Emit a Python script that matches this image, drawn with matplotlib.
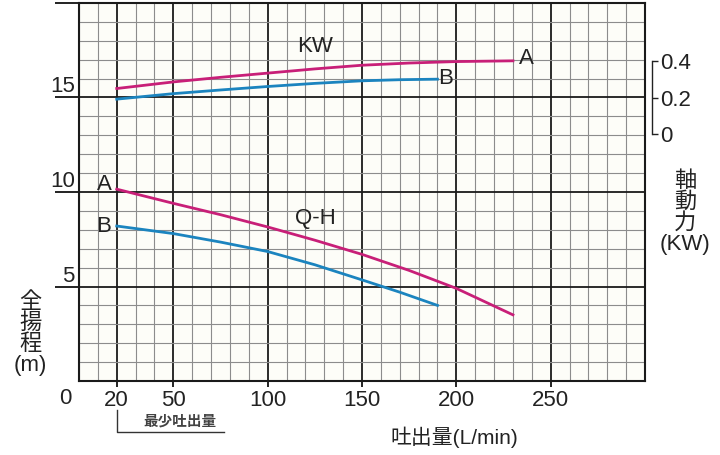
import matplotlib
matplotlib.use("Agg")
import matplotlib.pyplot as plt
import numpy as np

plt.rcParams['font.family'] = ['Liberation Sans', 'Noto Sans CJK JP', 'DejaVu Sans']

# Q-H curves (flow L/min, head m)
qh_a_q = [20, 50, 75, 100, 125, 150, 175, 200, 230]
qh_a_h = [10.15, 9.4, 8.8, 8.15, 7.45, 6.7, 5.85, 4.9, 3.5]
qh_b_q = [20, 50, 75, 100, 125, 150, 170, 190]
qh_b_h = [8.2, 7.8, 7.35, 6.85, 6.15, 5.35, 4.7, 4.0]

# shaft power curves (flow L/min, KW)
kw_a_q = [20, 50, 75, 100, 125, 150, 175, 200, 230]
kw_a_p = [0.249, 0.285, 0.31, 0.333, 0.356, 0.376, 0.388, 0.396, 0.40]
kw_b_q = [20, 50, 75, 100, 125, 150, 170, 190]
kw_b_p = [0.191, 0.221, 0.241, 0.26, 0.277, 0.291, 0.297, 0.30]

x_ticks = [20, 50, 100, 150, 200, 250]
h_ticks = [5, 10, 15, 20]
kw_ticks = [0, 0.2, 0.4]

magenta = '#c81f78'
blue = '#1b84bf'

W, H = 720, 455
fig = plt.figure(figsize=(7.2, 4.55), dpi=100)
ax = fig.add_axes([79 / W, 1 - 381 / H, (645 - 79) / W, (381 - 3) / H])
ax.set_facecolor('#fdfdf8')

ax.set_xlim(0, 300)
ax.set_ylim(0, 20)
ax.set_xticks(x_ticks)
ax.set_xticklabels([str(v) for v in x_ticks])
ax.set_xticks(np.arange(0, 301, 10), minor=True)
ax.set_yticks(h_ticks)
ax.set_yticklabels([])
ax.set_yticks(np.arange(0, 21, 1), minor=True)
ax.tick_params(axis='x', which='major', direction='out', length=4.5, width=1.4, pad=2,
               color='#222222', labelsize=16, labelcolor='#222222')
ax.tick_params(axis='y', which='major', direction='out', length=17.5, width=1.4, color='#222222')
ax.tick_params(which='minor', length=0)
ax.grid(which='minor', color='#8c8c8c', linewidth=0.8)
ax.grid(which='major', color='#1a1a1a', linewidth=1.3)
ax.set_axisbelow(True)
for s in ax.spines.values():
    s.set_color('#1a1a1a')
    s.set_linewidth(1.5)

ax.plot(qh_a_q, qh_a_h, color=magenta, lw=2)
ax.plot(qh_b_q, qh_b_h, color=blue, lw=2)

# right axis for shaft power, 0.2 KW sits on the 15 m line
ax2 = ax.twinx()
ax2.set_ylim((0 - 13.06) / 9.7, (20 - 13.06) / 9.7)
ax2.plot(kw_a_q, kw_a_p, color=magenta, lw=2)
ax2.plot(kw_b_q, kw_b_p, color=blue, lw=2)
ax2.set_yticks(kw_ticks)
ax2.set_yticklabels(['0', '0.2', '0.4'])
ax2.spines['right'].set_position(('outward', 5))
ax2.spines['right'].set_bounds(0, 0.4)
ax2.spines['right'].set_color('#222222')
ax2.spines['right'].set_linewidth(1.0)
for s in ['left', 'top', 'bottom']:
    ax2.spines[s].set_visible(False)
ax2.tick_params(axis='y', direction='out', length=4, width=1.0, pad=2, color='#222222',
                labelsize=16, labelcolor='#222222')

# head labels above the long ticks
for v in [5, 10, 15]:
    ax.annotate(str(v), xy=(0, v), xycoords=('axes fraction', 'data'),
                xytext=(-3, 0), textcoords='offset points',
                ha='right', va='bottom', fontsize=16, color='#222222')
fig.text(65 / W, 1 - 398 / H, '0', ha='center', va='center', fontsize=16, color='#222222')

def px(x, y, s, size=16, **kw):
    fig.text(x / W, 1 - y / H, s, fontsize=size, ha='center', va='center', color='#222222', **kw)

px(315, 46, 'KW')
px(526, 59, 'A')
px(446, 79, 'B')
px(104, 184, 'A')
px(104, 227, 'B')
px(315, 218, 'Q-H')

px(30, 334, '全\n揚\n程\n(m)', size=16, linespacing=1.0)
px(685, 213, '軸\n動\n力\n(KW)', size=16, linespacing=1.0)
px(454, 437, '吐出量(L/min)', size=15)
px(180, 422, '最少吐出量', size=10.5, fontweight='bold', alpha=0.85)

# minimum flow bracket
fig.add_artist(plt.Line2D([117 / W, 117 / W, 224 / W], [1 - 410 / H, 1 - 432 / H, 1 - 432 / H],
                          color='#333333', lw=1.0))

fig.savefig('out.png', dpi=100)
